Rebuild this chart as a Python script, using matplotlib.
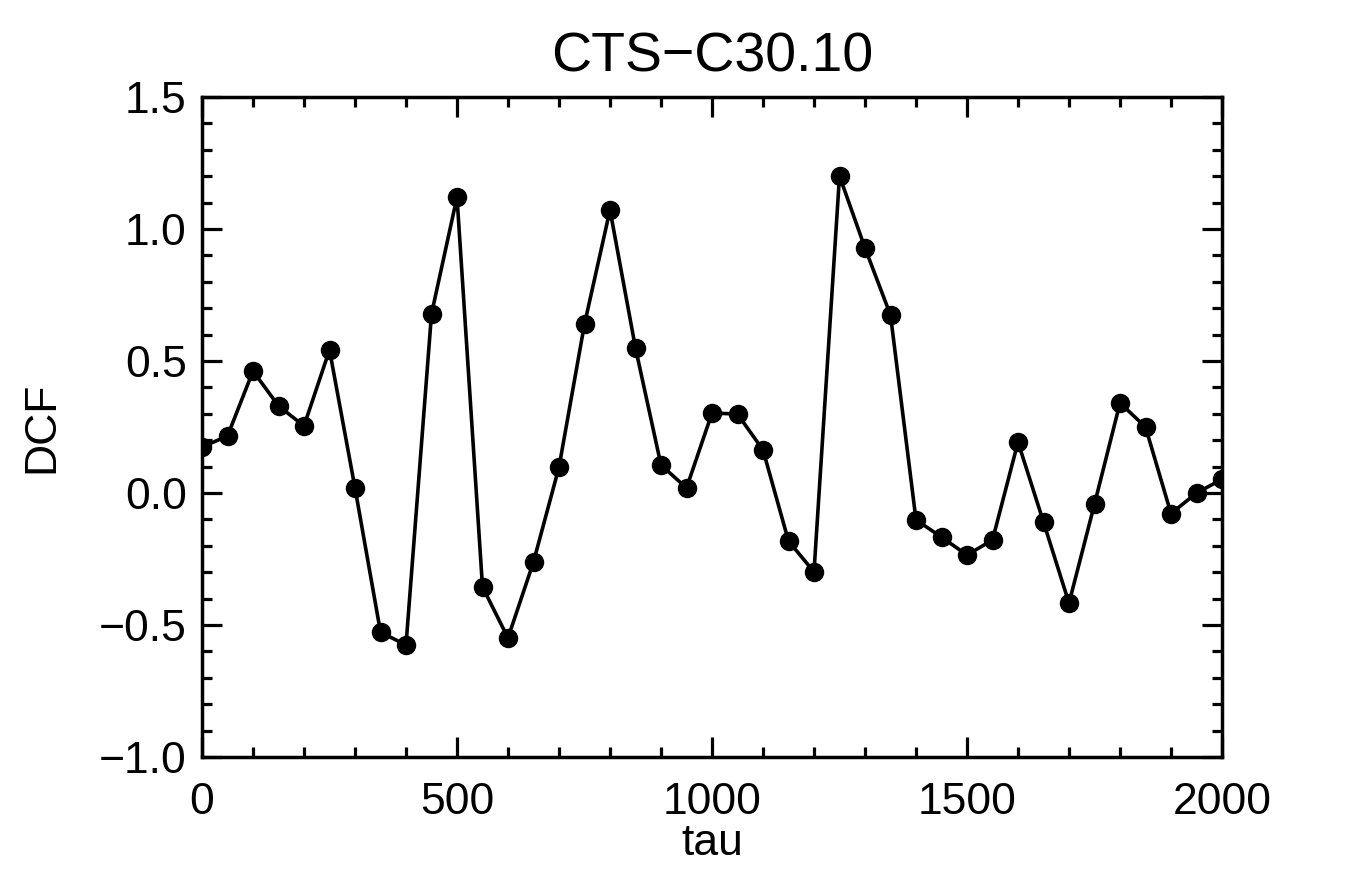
import matplotlib
matplotlib.use('Agg')
import matplotlib.pyplot as plt
from matplotlib.ticker import MultipleLocator

tau = list(range(0, 2001, 50))
dcf = [0.174, 0.216, 0.462, 0.330, 0.254, 0.542, 0.019, -0.527, -0.576, 0.678,
       1.121, -0.356, -0.549, -0.261, 0.098, 0.640, 1.072, 0.549, 0.106, 0.019,
       0.303, 0.299, 0.163, -0.182, -0.299, 1.201, 0.928, 0.674, -0.102, -0.167,
       -0.235, -0.178, 0.193, -0.110, -0.417, -0.042, 0.341, 0.250, -0.078, 0.0,
       0.052]

plt.rcParams['font.family'] = ['Liberation Sans', 'DejaVu Sans']

fig = plt.figure(figsize=(13.55, 8.83), dpi=100)
ax = fig.add_axes([202/1355, 1-757/883, (1222-202)/1355, (757-97)/883])

ax.plot(tau, dcf, linestyle='-', color='k', linewidth=2.6,
        marker='o', markersize=13, markeredgewidth=1, markerfacecolor='k')

ax.set_xlim(0, 2000)
ax.set_ylim(-1.0, 1.5)

ax.xaxis.set_major_locator(MultipleLocator(500))
ax.xaxis.set_minor_locator(MultipleLocator(100))
ax.yaxis.set_major_locator(MultipleLocator(0.5))
ax.yaxis.set_minor_locator(MultipleLocator(0.1))
ax.yaxis.set_major_formatter(plt.FuncFormatter(lambda v, p: ('%.1f' % v).replace('-', '\u2212')))

ax.tick_params(which='both', direction='in', top=True, right=True, width=2.3,
               labelsize=32)
ax.tick_params(axis='x', pad=18)
ax.tick_params(axis='y', pad=11)
ax.tick_params(which='major', length=14.5)
ax.tick_params(which='minor', length=7.5)
for s in ax.spines.values():
    s.set_linewidth(2.5)

ax.set_xlabel('tau', fontsize=32, labelpad=0)
ax.set_ylabel('DCF', fontsize=32, labelpad=26)
ax.set_title('CTS\u2212C30.10', fontsize=40, pad=18)

fig.savefig('out.png', dpi=100)
